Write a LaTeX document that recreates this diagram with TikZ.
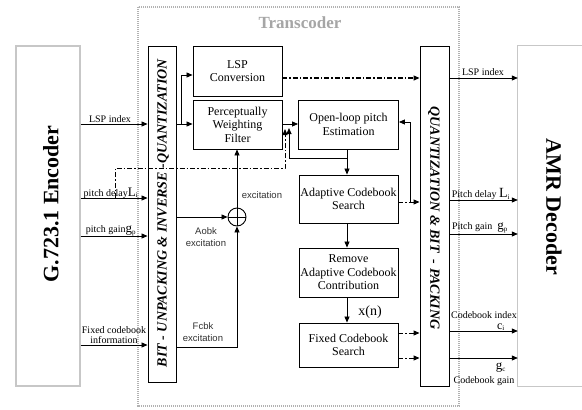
\documentclass[tikz,border=0pt]{standalone}
\usepackage{fontspec}
\setmainfont{Liberation Serif}
\newfontfamily\sansf{Liberation Sans}
\usetikzlibrary{arrows.meta}
\begin{document}
\begin{tikzpicture}[x=1pt,y=-1pt,
  >={Triangle[length=6pt,width=5pt]},
  blk/.style={draw, line width=0.9pt, inner sep=0pt, align=center, font=\fontsize{12}{13.5}\selectfont},
  gbox/.style={draw=black!22, line width=1.3pt},
  lbl/.style={font=\fontsize{10}{10.5}\selectfont, inner sep=0pt, align=center},
  slbl/.style={font=\sansf\fontsize{9.5}{11.5}\selectfont, inner sep=0pt, align=center, text=black!80},
  ln/.style={line width=0.8pt},
  dd/.style={line width=0.9pt, dash pattern=on 5pt off 2pt on 1.5pt off 2pt},
  vtxt/.style={inner sep=0pt, font=\bfseries\itshape\fontsize{14}{14}\selectfont},
  ttxt/.style={inner sep=0pt, font=\bfseries\fontsize{22}{22}\selectfont},
]
\fill[white] (0,0) rectangle (582,410);
\useasboundingbox (0,0) rectangle (582,410);

% transcoder frame
\draw[black!30, line width=1.3pt, dash pattern=on 1.2pt off 0.8pt] (138,7) rectangle (459,406);
\node[font=\bfseries\fontsize{17}{17}\selectfont, text=black!35] (ttl) at (300,23) {Transcoder};

% encoder / decoder
\node[gbox, minimum width=64pt, minimum height=340pt, inner sep=0pt] (enc) at (48,216) {};
\node[ttxt, rotate=90] (enct) at (51,204) {G.723.1 Encoder};
\node[inner sep=0pt, minimum width=64pt, minimum height=340pt] (dec) at (550,216) {};
\draw[gbox] (dec.north east) -- (dec.north west) -- (dec.south west) -- (dec.south east);
\node[ttxt, rotate=-90] (dect) at (554,207) {AMR Decoder};

% unpacking / packing
\node[blk, minimum width=28pt, minimum height=336pt] (unp) at (162,214) {};
\node[vtxt, rotate=90] (unpt) at (163,213) {BIT - UNPACKING \& INVERSE -QUANTIZATION};
\node[blk, minimum width=29pt, minimum height=340pt] (pak) at (434.5,216) {};
\node[vtxt, rotate=-90] (pakt) at (434,218) {QUANTIZATION \& BIT\ \ - PACKING};

% blocks
\node[blk, minimum width=89pt, minimum height=50pt] (lsp) at (237.5,71) {LSP\\Conversion};
\node[blk, minimum width=89pt, minimum height=49pt] (pwf) at (237.5,124.5) {Perceptually\\Weighting\\Filter};
\node[blk, minimum width=100pt, minimum height=49pt] (olp) at (348.5,124.5) {Open-loop pitch\\Estimation};
\node[blk, minimum width=99pt, minimum height=48pt] (acs) at (348.5,199) {Adaptive Codebook\\Search};
\node[blk, minimum width=99pt, minimum height=49pt] (rem) at (348.5,272.5) {Remove\\Adaptive Codebook\\Contribution};
\node[blk, minimum width=99pt, minimum height=44pt] (fcs) at (348.5,345) {Fixed Codebook\\Search};

% adder
\node[circle, draw, line width=0.9pt, minimum size=18pt, inner sep=0pt] (add) at (237,217) {};
\draw[line width=0.8pt] (add.north) -- (add.south) (add.west) -- (add.east);

% encoder -> unpacking
\draw[ln,->] (enc.east |- 0,124) -- (unp.west |- 0,124);
\draw[ln,->] (enc.east |- 0,198) -- (unp.west |- 0,198);
\draw[ln,->] (enc.east |- 0,236) -- (unp.west |- 0,236);
\draw[ln,->] (enc.east |- 0,345) -- (unp.west |- 0,345);
\node[lbl] (l1) at (110,119) {LSP index};
\node[lbl] (l2) at (111,193) {pitch delay{\fontsize{13}{13}\selectfont L}\textsubscript{i}};
\node[lbl] (l3) at (111,231) {pitch gain{\fontsize{13}{13}\selectfont g}\textsubscript{p}};
\node[lbl] (l4) at (114,335) {Fixed codebook\\information};

% dash-dot from pitch delay
\coordinate (pd1) at (115,198);
\coordinate (pd2) at (115,168);
\coordinate (pd3) at (285,168);
\coordinate (pd4) at (285,129);
\draw[dd,->] (pd1) -- (pd2) -- (pd3) -- (pd4);

% unpacking -> LSP conv / PWF
\coordinate (br) at (181,124);
\draw[ln,->] (unp.east |- br) -- (pwf.west |- br);
\draw[ln,->] (br) -- (181,75) -- (lsp.west |- 0,75);
\draw[dd, line width=1.2pt, ->] (lsp.east |- 0,78) -- (pak.west |- 0,78);

% PWF -> OLP
\draw[ln,->] (pwf.east |- 0,124) -- (olp.west |- 0,124);
\coordinate (ob) at (347,158);
\draw[ln,->] (olp.south -| ob) -- (acs.north -| ob);
\draw[ln,->] (ob) -- (289,158) -- (289,128);

% ACS feedback
\coordinate (fb) at (410,202);
\draw[dd,->] (acs.east |- fb) -- (pak.west |- fb);
\draw[ln,->] (fb) -- (410,122) -- (olp.east |- 0,122);

\draw[ln,->] (acs.south -| ob) -- (rem.north -| ob);
\draw[ln,->] (rem.south -| ob) -- (fcs.north -| ob);
\node[font=\fontsize{14}{14}\selectfont, inner sep=0pt] (xn) at (370,312) {x(n)};

\draw[dd,->] (fcs.east |- 0,333) -- (pak.west |- 0,333);
\draw[dd,->] (fcs.east |- 0,358) -- (pak.west |- 0,358);

% excitations
\draw[ln,->] (unp.east |- add) -- (add.west);
\draw[ln,->] (unp.east |- 0,347) -- (add |- 0,347) -- (add.south);
\draw[ln,->] (add.north) -- (add |- pwf.south);
\node[slbl] (ex) at (262,195) {excitation};
\node[slbl] (aex) at (206,237) {Aobk\\excitation};
\node[slbl] (fex) at (203,332) {Fcbk\\excitation};

% packing -> decoder
\draw[ln,->] (pak.east |- 0,78) -- (dec.west |- 0,78);
\draw[ln,->] (pak.east |- 0,200) -- (dec.west |- 0,200);
\draw[ln,->] (pak.east |- 0,234) -- (dec.west |- 0,234);
\draw[ln,->] (pak.east |- 0,331) -- (dec.west |- 0,331);
\draw[ln,->] (pak.east |- 0,358) -- (dec.west |- 0,358);
\node[lbl] (r1) at (483,72) {LSP index};
\node[lbl] (r2) at (481,194) {Pitch delay {\fontsize{14}{14}\selectfont L}\textsubscript{i}};
\node[lbl] (r3) at (480,228) {Pitch gain\ \ {\fontsize{13}{13}\selectfont g}\textsubscript{p}};
\node[lbl] (r4) at (484,315) {Codebook index};
\node[lbl] (r5) at (501,327) {{\fontsize{12}{12}\selectfont c}\textsubscript{i}};
\node[lbl] (r6) at (501,368) {{\fontsize{13}{13}\selectfont g}\textsubscript{c}};
\node[lbl] (r7) at (484,381) {Codebook gain};
\end{tikzpicture}
\end{document}
